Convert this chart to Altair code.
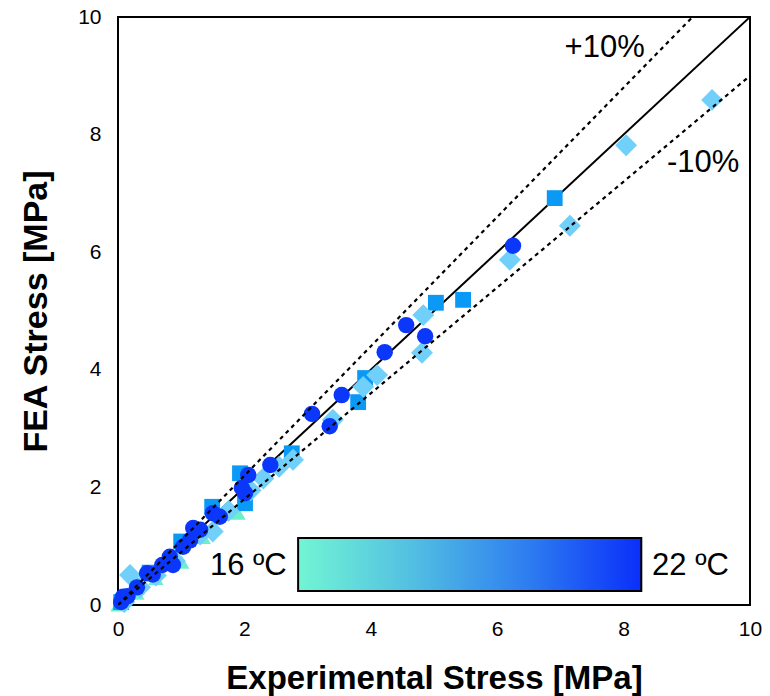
import altair as alt
import pandas as pd

# Measured (experimental) vs simulated (FEA) stress, MPa, grouped by test temperature
circle_x = [0.05, 0.08, 0.15, 0.3, 0.46, 0.55, 0.7, 0.82, 0.87, 1.03, 1.14, 1.19, 1.3, 1.5, 1.61, 1.96, 2.01, 2.06,
            2.41, 3.07, 3.35, 3.54, 4.22, 4.56, 4.86, 6.25]
circle_y = [0.05, 0.14, 0.15, 0.3, 0.54, 0.52, 0.68, 0.82, 0.68, 0.99, 1.1, 1.31, 1.28, 1.56, 1.5, 1.99, 1.9, 2.21,
            2.38, 3.25, 3.04, 3.57, 4.30, 4.76, 4.57, 6.11]

square_x = [0.05, 0.3, 0.5, 1.0, 1.49, 1.93, 2.01, 2.75, 3.80, 3.91, 5.03, 5.46, 6.91]
square_y = [0.05, 0.32, 0.55, 1.08, 1.67, 2.24, 1.73, 2.58, 3.45, 3.86, 5.14, 5.19, 6.92]

diamond_x = [0.1, 0.19, 0.35, 0.6, 0.9, 1.3, 1.5, 1.75, 2.1, 2.3, 2.55, 2.77, 3.40, 3.88, 4.10, 4.81, 4.83,
             6.20, 7.15, 8.04, 9.40]
diamond_y = [0.05, 0.51, 0.3, 0.5, 0.75, 1.2, 1.25, 1.6, 1.95, 2.15, 2.35, 2.47, 3.15, 3.71, 3.91, 4.29, 4.93,
             5.87, 6.45, 7.82, 8.59]

triangle_x = [0.0, 0.3, 0.6, 1.01, 1.35, 1.9]
triangle_y = [0.0, 0.2, 0.45, 0.73, 1.15, 1.56]

# Reference lines: 1:1 fit and ±10 % bounds
line_x = [0, 10]
line_y = [0, 10]
plus_x = [0, 10 / 1.1]
plus_y = [0, 10]
minus_x = [0, 10]
minus_y = [0, 9]

# Temperature colour bar
bar_x = [2.85, 8.28]
bar_y = [0.24, 1.14]
bar_stops = ["#72f5d4", "#52bfe2", "#2e7ef0", "#0a2ffa"]

labels = ["+10%", "-10%", "16 ºC", "22 ºC"]
label_x = [7.7, 9.26, 2.67, 8.45]
label_y = [9.47, 7.52, 0.66, 0.66]
label_align = ["center", "center", "right", "left"]

FONT = "Liberation Sans"

xs = alt.Scale(domain=[0, 10], nice=False, padding=0, zero=False)
ys = alt.Scale(domain=[0, 10], nice=False, padding=0, zero=False)

ticks = [0, 2, 4, 6, 8, 10]
x_axis = alt.Axis(values=ticks, format="d", labelFlush=False, title="Experimental Stress [MPa]")
y_axis = alt.Axis(values=ticks, format="d", labelFlush=False, title="FEA Stress [MPa]")

fit = alt.Chart(pd.DataFrame({"x": line_x, "y": line_y})).mark_line(
    color="black", strokeWidth=2, clip=True
).encode(
    x=alt.X("x:Q", scale=xs, axis=x_axis),
    y=alt.Y("y:Q", scale=ys, axis=y_axis),
)


def series(xv, yv, shape, color, size):
    return alt.Chart(pd.DataFrame({"exp": xv, "fea": yv})).mark_point(
        shape=shape, filled=True, opacity=1, strokeWidth=0, color=color, size=size
    ).encode(
        x=alt.X("exp:Q", scale=xs),
        y=alt.Y("fea:Q", scale=ys),
    )


tri = series(triangle_x, triangle_y, "triangle-up", "#6cefcb", 230)
sq = series(square_x, square_y, "square", "#0a9af5", 250)
dia = series(diamond_x, diamond_y, "diamond", "#70d0fa", 480)
circ = series(circle_x, circle_y, "circle", "#0a37fa", 270)

bounds_df = pd.DataFrame(
    [{"x": a, "y": b, "band": "plus"} for a, b in zip(plus_x, plus_y)]
    + [{"x": a, "y": b, "band": "minus"} for a, b in zip(minus_x, minus_y)]
)
bounds = alt.Chart(bounds_df).mark_line(
    color="black", strokeWidth=2.2, strokeDash=[4, 4], clip=True
).encode(
    x=alt.X("x:Q", scale=xs),
    y=alt.Y("y:Q", scale=ys),
    detail="band:N",
)

gradient = alt.LinearGradient(
    gradient="linear",
    stops=[alt.GradientStop(color=c, offset=i / (len(bar_stops) - 1)) for i, c in enumerate(bar_stops)],
    x1=0, x2=1, y1=0, y2=0,
)
colorbar = alt.Chart(pd.DataFrame({"x": [bar_x[0]], "x2": [bar_x[1]], "y": [bar_y[0]], "y2": [bar_y[1]]})).mark_rect(
    color=gradient, stroke="black", strokeWidth=2
).encode(
    x=alt.X("x:Q", scale=xs),
    x2="x2:Q",
    y=alt.Y("y:Q", scale=ys),
    y2="y2:Q",
)

text_df = pd.DataFrame({"label": labels, "x": label_x, "y": label_y, "align": label_align})
texts = []
for al in ["center", "right", "left"]:
    texts.append(
        alt.Chart(text_df[text_df["align"] == al]).mark_text(
            font=FONT, fontSize=31, align=al, baseline="middle", color="black"
        ).encode(
            x=alt.X("x:Q", scale=xs),
            y=alt.Y("y:Q", scale=ys),
            text="label:N",
        )
    )

chart = alt.layer(fit, tri, sq, dia, circ, bounds, colorbar, *texts).properties(
    width=632,
    height=588,
    autosize=alt.AutoSizeParams(type="none"),
    padding={"left": 118, "top": 17, "right": 20, "bottom": 91},
).configure_view(
    stroke="black", strokeWidth=2
).configure_axis(
    grid=False, ticks=False, domain=False,
    labelFont=FONT, labelFontSize=21, labelColor="black",
    titleFont=FONT, titleFontWeight="bold", titleColor="black",
).configure_axisX(
    labelPadding=13, titlePadding=23, titleFontSize=33,
).configure_axisY(
    labelPadding=17, titlePadding=24, titleFontSize=34,
)

chart.save("out.html", embed_options={"renderer": "svg", "actions": False})
